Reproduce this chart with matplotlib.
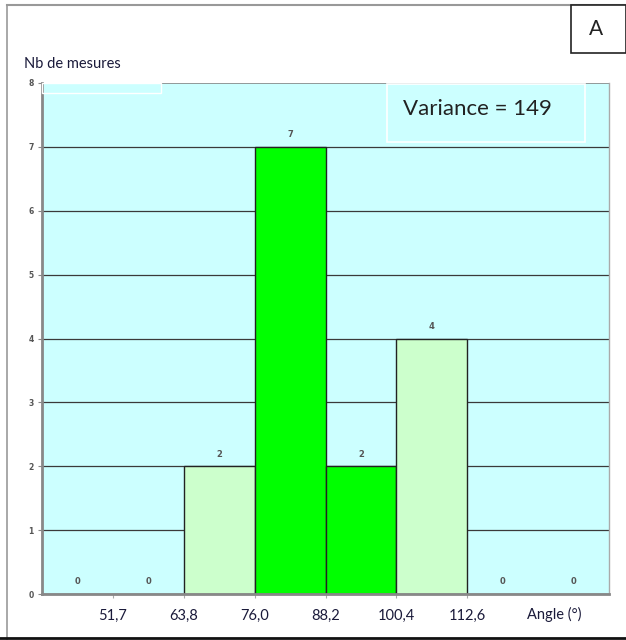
import matplotlib
matplotlib.use("Agg")
import matplotlib.pyplot as plt
from matplotlib.patches import Rectangle

plt.rcParams['font.family'] = ['Lato', 'DejaVu Sans']

counts = [0, 0, 2, 7, 2, 4, 0, 0]
bar_colors = ["#ccffcc", "#ccffcc", "#ccffcc", "#00ff00", "#00ff00", "#ccffcc", "#ccffcc", "#ccffcc"]
edge_labels = ["51,7", "63,8", "76,0", "88,2", "100,4", "112,6"]
y_ticks = [0, 1, 2, 3, 4, 5, 6, 7, 8]

W, H = 626, 640
fig = plt.figure(figsize=(W / 100, H / 100), dpi=100)
fig.patch.set_facecolor("white")

L, R, T, B = 42, 609, 83, 594
ax = fig.add_axes([L / W, 1 - B / H, (R - L) / W, (B - T) / H])
ax.set_facecolor("#ccffff")

n = len(counts)
ax.set_xlim(0, n)
ax.set_ylim(0, 8)
for yv in y_ticks[1:-1]:
    ax.axhline(yv, color="#3a3a3a", lw=0.9, zorder=1)
ax.axhline(8, color="#888888", lw=1.2, zorder=1)

ax.bar([i for i in range(n)], counts, width=1.0, align="edge",
       color=bar_colors, edgecolor="#222222", linewidth=1.0, zorder=2)

for i, c in enumerate(counts):
    ax.text(i + 0.5, c + 0.12, str(c), ha="center", va="bottom", family="DejaVu Sans",
            fontsize=6, color="#555555", fontweight="bold", zorder=3)

ax.set_yticks(y_ticks)
ax.set_yticklabels([str(v) for v in y_ticks], fontsize=5.5, color="#555555",
                   fontweight="bold", family="DejaVu Sans")
ax.set_xticks(list(range(1, 1 + len(edge_labels))))
ax.set_xticklabels(edge_labels, fontsize=10.5, color="#1a1a3a")
ax.tick_params(axis="x", length=3, color="#aaaaaa", pad=8)
ax.tick_params(axis="y", length=3, color="#888888", pad=3)

for s in ["top", "right"]:
    ax.spines[s].set_visible(False)
ax.spines["left"].set_color("#888888")
ax.spines["left"].set_linewidth(2)
ax.spines["bottom"].set_color("#888888")
ax.spines["bottom"].set_linewidth(2)
ax.spines["left"].set_zorder(4)

ax.plot([1, 1], [0, 1], transform=ax.transAxes, color="#aaaaaa", lw=1, clip_on=False)

fig.text(527 / W, 1 - 614 / H, "Angle (°)", fontsize=10.5, color="#1a1a3a", ha="left", va="center")
fig.text(24 / W, 1 - 64 / H, "Nb de mesures", fontsize=10.5, color="#1a1a3a", ha="left", va="center")

fig.patches.append(Rectangle((L / W, 1 - 93 / H), (161 - L) / W, 10 / H, transform=fig.transFigure,
                             fill=False, edgecolor="white", lw=1, zorder=5))

fig.patches.append(Rectangle((387 / W, 1 - 142 / H), (585 - 387) / W, (142 - 84) / H,
                             transform=fig.transFigure, facecolor="#ccffff",
                             edgecolor="white", lw=1.2, zorder=5))
fig.text(477 / W, 1 - 109 / H, "Variance = 149", fontsize=16, color="#222222",
         ha="center", va="center", zorder=6)

fig.add_artist(plt.Line2D([7 / W, 1], [1 - 5 / H, 1 - 5 / H], color="#999999", lw=1.5))
fig.add_artist(plt.Line2D([7 / W, 7 / W], [1 - 5 / H, 0], color="#999999", lw=1.2))
fig.add_artist(plt.Line2D([0, 1], [1 - 638 / H, 1 - 638 / H], color="#111111", lw=2))

fig.patches.append(Rectangle((571 / W, 1 - 53 / H), (626 - 571) / W, 48 / H,
                             transform=fig.transFigure, facecolor="white",
                             edgecolor="#222222", lw=1.2, zorder=5))
fig.text(596 / W, 1 - 29 / H, "A", fontsize=15, color="#222222", ha="center", va="center", zorder=6)

fig.savefig("out.png", dpi=100)
